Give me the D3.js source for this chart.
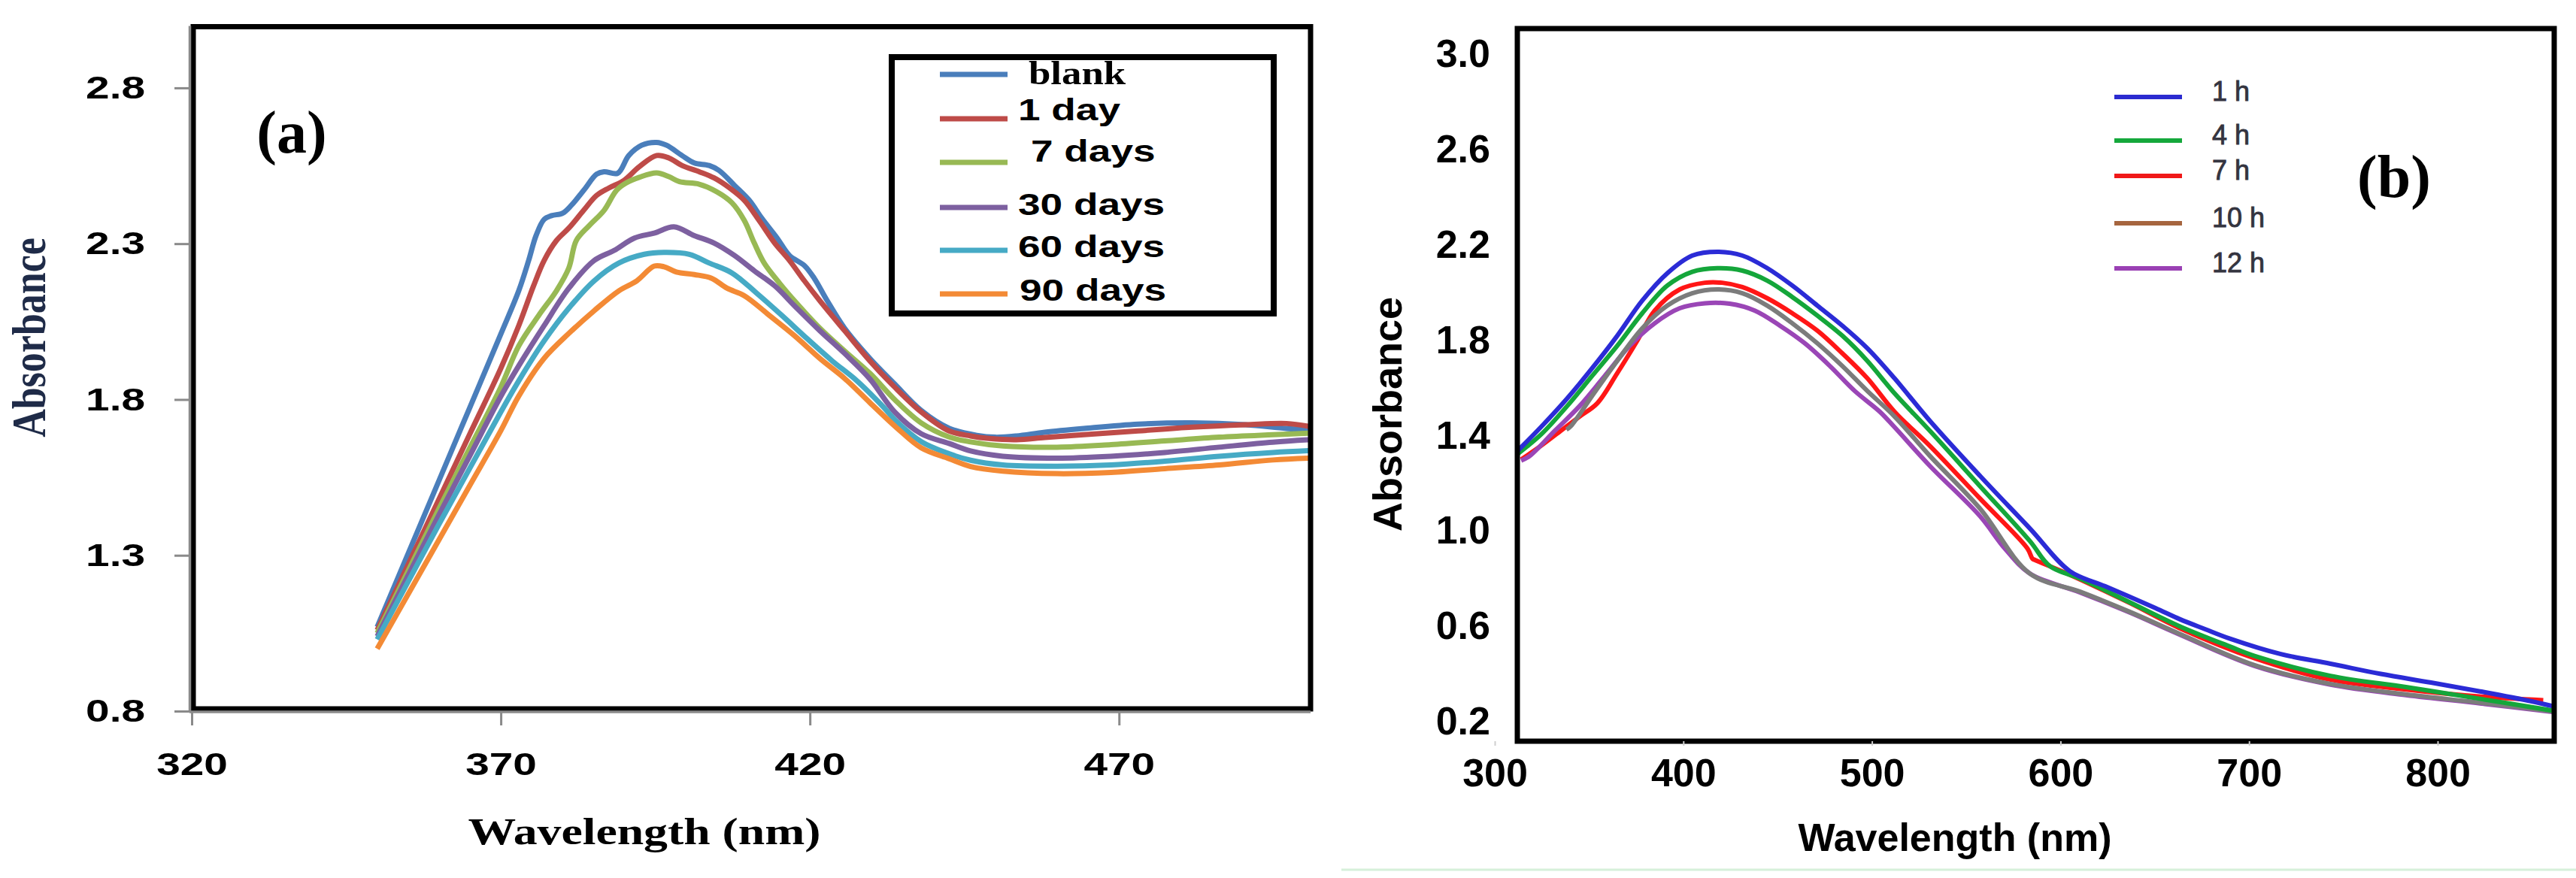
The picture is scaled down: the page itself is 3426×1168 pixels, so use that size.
<!DOCTYPE html>
<html>
<head>
<meta charset="utf-8">
<script src="https://cdn.jsdelivr.net/npm/d3@7"></script>
<style>
  body { margin: 0; background: #fff; }
  svg { display: block; }
</style>
</head>
<body>
<svg id="fig" width="3426" height="1168"></svg>
<script>
// ---- Panel (a): absorbance vs wavelength, storage time series ----
const blankA = [[350,1.07],[355,1.305],[360,1.54],[365,1.775],[370,2.01],[372.9,2.149],[374.5,2.246],[375.7,2.326],[377,2.378],[378.2,2.39],[380,2.398],[381.4,2.423],[383.4,2.471],[385.5,2.523],[386.7,2.531],[388.9,2.526],[390.7,2.583],[392.8,2.616],[395.2,2.625],[396.8,2.616],[399.3,2.583],[401.3,2.559],[403.7,2.551],[405.3,2.535],[407.8,2.487],[410.2,2.439],[412.2,2.382],[414.7,2.318],[416.7,2.262],[419.1,2.23],[420.7,2.189],[422.8,2.117],[425.6,2.029],[429.7,1.932],[433.7,1.85],[438,1.765],[442.5,1.708],[447,1.685],[450,1.679],[453.4,1.683],[458,1.695],[464.3,1.707],[473.1,1.721],[481.8,1.725],[490.5,1.719],[497.1,1.707],[501,1.703]];
const day1A = [[350,1.06],[355,1.27],[360,1.48],[365,1.69],[370,1.90],[372.9,2.037],[375.3,2.165],[377,2.246],[379,2.31],[381,2.35],[383.4,2.407],[385.5,2.455],[387.5,2.479],[389.9,2.503],[392.4,2.547],[395.2,2.583],[397.2,2.575],[399.3,2.551],[402.1,2.531],[404.5,2.511],[407,2.479],[409.4,2.439],[411.8,2.374],[414.3,2.302],[416.7,2.246],[419.1,2.181],[421.6,2.117],[425.6,2.021],[429.7,1.924],[433.7,1.84],[438,1.76],[442.5,1.699],[446,1.683],[449,1.675],[453.4,1.671],[458,1.678],[464.3,1.687],[473.1,1.699],[481.8,1.711],[490.5,1.719],[497.1,1.723],[501,1.713]];
const day7A = [[350,1.05],[355,1.25],[360,1.45],[365,1.645],[370,1.84],[372.9,1.972],[376.1,2.069],[379,2.149],[381,2.222],[382.2,2.31],[384.3,2.358],[386.7,2.407],[388.7,2.471],[390.3,2.495],[392.4,2.513],[395.2,2.527],[397.2,2.515],[398.9,2.499],[402.1,2.491],[404.9,2.467],[407.4,2.431],[409.4,2.374],[411,2.302],[412.6,2.238],[415.1,2.173],[417.5,2.117],[421.6,2.029],[425.6,1.956],[429.7,1.884],[433.7,1.80],[438,1.725],[442.5,1.68],[446,1.664],[451.2,1.651],[460,1.647],[468.7,1.655],[477.4,1.667],[486.2,1.679],[494.9,1.687],[501,1.692]];
const day30A = [[350,1.04],[355,1.235],[360,1.43],[365,1.62],[370,1.81],[372.9,1.908],[377,2.037],[381,2.157],[385.1,2.246],[388.3,2.278],[391.6,2.318],[394.8,2.334],[398,2.354],[401.3,2.326],[404.5,2.302],[407.8,2.262],[411,2.213],[414.3,2.165],[417.5,2.101],[421.6,2.021],[425.6,1.948],[429.7,1.866],[433.7,1.76],[438,1.69],[442.5,1.659],[446,1.635],[451.2,1.618],[460,1.612],[468.7,1.618],[477.4,1.63],[486.2,1.647],[494.9,1.663],[501,1.671]];
const day60A = [[350,1.03],[355,1.215],[360,1.40],[365,1.58],[370,1.76],[372.9,1.86],[377,1.988],[381,2.093],[385.1,2.181],[389.1,2.238],[393.2,2.266],[396.4,2.272],[400.5,2.266],[403.7,2.238],[407.4,2.206],[411.4,2.141],[415.5,2.069],[419.5,1.996],[423.6,1.924],[427.6,1.86],[431.7,1.78],[434,1.73],[438,1.665],[442.5,1.626],[446,1.605],[451.2,1.59],[460,1.586],[468.7,1.59],[477.4,1.602],[486.2,1.618],[494.9,1.63],[501,1.636]];
const day90A = [[350,1.0],[355,1.175],[360,1.35],[365,1.525],[370,1.70],[372.9,1.811],[377,1.932],[381,2.012],[385.1,2.085],[389.1,2.149],[392,2.181],[394.8,2.228],[396.4,2.226],[398.4,2.209],[401.3,2.201],[404.1,2.189],[406.6,2.157],[409.4,2.133],[413.5,2.069],[417.5,2.005],[421.6,1.932],[425.6,1.868],[429.7,1.79],[434,1.71],[438,1.645],[442.5,1.61],[446,1.585],[451.2,1.57],[460,1.562],[468.7,1.566],[477.4,1.578],[486.2,1.59],[494.9,1.606],[501,1.612]];

const seriesA = [blankA, day1A, day7A, day30A, day60A, day90A];
const namesA = ["blank", "1 day", "7 days", "30 days", "60 days", "90 days"];
const colorsA = ["#4a7ebb", "#be4b48", "#98b954", "#7d60a0", "#46aac5", "#f38a35"];
const xTicksA = [320, 370, 420, 470];
const yTicksA = [0.8, 1.3, 1.8, 2.3, 2.8];

// ---- Panel (b): absorbance vs wavelength, reaction time series ----
const h1B = [[312,1.335],[325,1.44],[338.4,1.556],[351.6,1.682],[364.9,1.818],[378.2,1.966],[391.5,2.081],[404.7,2.155],[418,2.171],[431.3,2.155],[444.5,2.102],[457.8,2.029],[471.1,1.945],[484.3,1.861],[497.6,1.766],[512,1.64],[530.7,1.462],[557.3,1.231],[583.8,1.01],[605,0.831],[623.6,0.768],[650.2,0.677],[663.2,0.63],[676.7,0.588],[689.9,0.548],[716.5,0.484],[743.2,0.443],[769.9,0.4],[796.5,0.364],[823.2,0.326],[849.9,0.285],[862,0.263]];
const h4B = [[312,1.322],[325,1.408],[338.4,1.524],[351.6,1.65],[364.9,1.776],[378.2,1.913],[391.5,2.029],[404.7,2.087],[418,2.102],[431.3,2.092],[444.5,2.05],[457.8,1.981],[471.1,1.903],[484.3,1.819],[497.6,1.713],[512,1.577],[530.7,1.42],[557.3,1.188],[583.8,0.957],[594.4,0.852],[610.4,0.8],[636.9,0.70],[663.2,0.60],[689.9,0.515],[703.2,0.475],[743.2,0.392],[783.2,0.345],[823.2,0.295],[862,0.245]];
const h7B = [[314,1.30],[325,1.36],[335,1.42],[345,1.48],[354.3,1.535],[364.9,1.661],[375.5,1.797],[384.8,1.924],[398.1,2.013],[411.4,2.041],[420.6,2.041],[431.3,2.023],[444.5,1.976],[457.8,1.913],[471.1,1.84],[484.3,1.745],[497.6,1.64],[512,1.50],[530.7,1.357],[557.3,1.136],[582.5,0.926],[585.1,0.884],[586.5,0.878],[605,0.816],[636.9,0.697],[663.2,0.592],[703.2,0.465],[743.2,0.376],[783.2,0.335],[823.2,0.305],[856,0.29]];
const h10B = [[338,1.425],[340.4,1.44],[351.6,1.566],[364.9,1.713],[378.2,1.85],[391.5,1.945],[404.7,1.997],[418,2.013],[431.3,1.997],[444.5,1.945],[457.8,1.871],[471.1,1.787],[484.3,1.692],[497.6,1.587],[512,1.48],[530.7,1.315],[557.3,1.094],[583.8,0.821],[610.4,0.745],[636.9,0.66],[663.2,0.568],[703.2,0.436],[743.2,0.358],[783.2,0.314],[823.2,0.279],[862,0.242]];
const h12B = [[314,1.295],[318.5,1.314],[331.7,1.419],[345,1.524],[358.3,1.65],[371.5,1.776],[384.8,1.871],[398.1,1.934],[411.4,1.955],[424.6,1.953],[437.9,1.924],[451.2,1.861],[464.4,1.787],[477.7,1.692],[490.9,1.587],[504.2,1.50],[512,1.435],[530.7,1.273],[557.3,1.062],[570.5,0.926],[583.8,0.821],[610.4,0.742],[636.9,0.657],[663.2,0.565],[703.2,0.433],[743.2,0.355],[783.2,0.311],[823.2,0.276],[862,0.24]];

const seriesB = [h1B, h4B, h7B, h10B, h12B];
const namesB = ["1 h", "4 h", "7 h", "10 h", "12 h"];
const curveColorsB = ["#2b2bd6", "#14a63a", "#ff1616", "#7c7c7c", "#9a46b6"];
const legendColorsB = ["#2b2bd0", "#15a83c", "#f01818", "#a6653f", "#9a40b4"];
const drawOrderB = [2, 4, 3, 1, 0];
const xTicksB = [300, 400, 500, 600, 700, 800];
const yTicksB = [0.2, 0.6, 1.0, 1.4, 1.8, 2.2, 2.6, 3.0];

// ---- Layout ----
const SANS = '"Liberation Sans", Arial, sans-serif';
const SERIF = '"Liberation Serif", "Times New Roman", serif';
const svg = d3.select("#fig");

// the left figure is a horizontally stretched bitmap, so its text gets a scaleX
function label(g, { x, y, text, size, family, weight = "bold", sx = 1, rot = 0, anchor = "middle", fill = "#000" }) {
  return g.append("text")
    .attr("transform", `translate(${x},${y}) scale(${sx},1)` + (rot ? ` rotate(${rot})` : ""))
    .attr("text-anchor", anchor)
    .attr("font-family", family)
    .attr("font-size", size)
    .attr("font-weight", weight)
    .attr("fill", fill)
    .text(text);
}

function stretchAxisText(g, sx) {
  g.selectAll("text").each(function () {
    const t = d3.select(this);
    const x = +t.attr("x") || 0, y = +t.attr("y") || 0;
    t.attr("x", null).attr("y", null)
      .attr("transform", `translate(${x},${y}) scale(${sx},1)`);
  });
}

// ================= Panel (a) =================
const xA = d3.scaleLinear().domain([320, 500.5]).range([255, 1739]);
const yA = d3.scaleLinear().domain([0.8, 3.0]).range([946, 34]);
const gA = svg.append("g");

svg.append("clipPath").attr("id", "clipA")
  .append("rect").attr("x", 259).attr("y", 39).attr("width", 1481).attr("height", 901);

const lineA = d3.line()
  .x(d => xA(d[0])).y(d => yA(d[1]))
  .curve(d3.curveCatmullRom.alpha(0.5));

gA.append("g").attr("clip-path", "url(#clipA)")
  .selectAll("path").data(seriesA).join("path")
  .attr("d", lineA)
  .attr("fill", "none")
  .attr("stroke", (d, i) => colorsA[i])
  .attr("stroke-width", 7)
  .attr("stroke-linejoin", "round");

// frame
gA.append("rect")
  .attr("x", 257).attr("y", 35.5).attr("width", 1486).attr("height", 907.5)
  .attr("fill", "none").attr("stroke", "#000").attr("stroke-width", 7);

// axes (gray, Excel style)
const yAxisA = gA.append("g").attr("transform", "translate(252,0)")
  .call(d3.axisLeft(yA).tickValues(yTicksA).tickFormat(d3.format(".1f"))
    .tickSize(20).tickPadding(39).tickSizeOuter(0));
const xAxisA = gA.append("g").attr("transform", "translate(0,947)")
  .call(d3.axisBottom(xA).tickValues(xTicksA).tickFormat(d3.format("d"))
    .tickSize(18).tickPadding(35).tickSizeOuter(0));
[yAxisA, xAxisA].forEach(g => {
  g.attr("font-family", SANS).attr("font-size", 43).attr("font-weight", "bold");
  g.select(".domain").attr("stroke", "#8a8a8a").attr("stroke-width", 3.5);
  g.selectAll(".tick line").attr("stroke", "#8a8a8a").attr("stroke-width", 3);
  g.selectAll(".tick text").attr("fill", "#000");
  stretchAxisText(g, 1.32);
});
xAxisA.select(".domain").attr("d", `M${xA(320) - 3},0H${xA.range()[1] + 4}`);

// titles
label(gA, { x: 857, y: 1123, text: "Wavelength (nm)", size: 51, family: SERIF, sx: 1.25 });
label(gA, { x: 60, y: 449, text: "Absorbance", size: 52, family: SERIF, sx: 1.2, rot: -90, fill: "#1f2b48" });
label(gA, { x: 388, y: 203, text: "(a)", size: 80, family: SERIF });

// legend
const legendRowsA = [
  { y: 99, ty: 112, tx: 1368, family: SERIF, size: 44, sx: 1.2 },
  { y: 158, ty: 160, tx: 1354, family: SANS, size: 40, sx: 1.33 },
  { y: 216, ty: 215, tx: 1371, family: SANS, size: 40, sx: 1.33 },
  { y: 276, ty: 286, tx: 1354, family: SANS, size: 40, sx: 1.33 },
  { y: 333, ty: 342, tx: 1354, family: SANS, size: 40, sx: 1.33 },
  { y: 391, ty: 400, tx: 1356, family: SANS, size: 40, sx: 1.33 }
];
const legA = gA.append("g");
legA.append("rect")
  .attr("x", 1186).attr("y", 76).attr("width", 508).attr("height", 341)
  .attr("fill", "#fff").attr("stroke", "#000").attr("stroke-width", 8);
namesA.forEach((name, i) => {
  const r = legendRowsA[i];
  legA.append("line")
    .attr("x1", 1250).attr("x2", 1340).attr("y1", r.y).attr("y2", r.y)
    .attr("stroke", colorsA[i]).attr("stroke-width", 7);
  label(legA, { x: r.tx, y: r.ty, text: name, size: r.size, family: r.family, sx: r.sx, anchor: "start" });
});

// ================= Panel (b) =================
const xB = d3.scaleLinear().domain([300, 800]).range([1988, 3242]);
const yB = d3.scaleLinear().domain([0.2, 3.0]).range([960, 72]);
const gB = svg.append("g");

svg.append("clipPath").attr("id", "clipB")
  .append("rect").attr("x", 2021).attr("y", 41).attr("width", 1373).attr("height", 942);

const lineB = d3.line()
  .x(d => xB(d[0])).y(d => yB(d[1]))
  .curve(d3.curveCatmullRom.alpha(0.5));

gB.append("g").attr("clip-path", "url(#clipB)")
  .selectAll("path").data(drawOrderB).join("path")
  .attr("d", i => lineB(seriesB[i]))
  .attr("fill", "none")
  .attr("stroke", i => curveColorsB[i])
  .attr("stroke-width", 6)
  .attr("stroke-linejoin", "round");

gB.append("rect")
  .attr("x", 2018).attr("y", 38).attr("width", 1379).attr("height", 948)
  .attr("fill", "none").attr("stroke", "#000").attr("stroke-width", 7);

const yAxisB = gB.append("g").attr("transform", "translate(2018,0)")
  .call(d3.axisLeft(yB).tickValues(yTicksB).tickFormat(d3.format(".1f"))
    .tickSize(0).tickPadding(36).tickSizeOuter(0));
const xAxisB = gB.append("g").attr("transform", "translate(0,986)")
  .call(d3.axisBottom(xB).tickValues(xTicksB).tickFormat(d3.format("d"))
    .tickSize(6).tickPadding(17).tickSizeOuter(0));
[yAxisB, xAxisB].forEach(g => {
  g.attr("font-family", SANS).attr("font-size", 52).attr("font-weight", "bold");
  g.select(".domain").remove();
  g.selectAll(".tick line").attr("stroke", "#cfcfcf").attr("stroke-width", 2);
  g.selectAll(".tick text").attr("fill", "#000");
});

label(gB, { x: 2600, y: 1132, text: "Wavelength (nm)", size: 52, family: SANS });
label(gB, { x: 1864, y: 551, text: "Absorbance", size: 54, family: SANS, rot: -90 });
label(gB, { x: 3184, y: 262, text: "(b)", size: 80, family: SERIF });

const legendRowsB = [129, 187, 234, 297, 357];
const legB = gB.append("g");
namesB.forEach((name, i) => {
  const y = legendRowsB[i];
  legB.append("line")
    .attr("x1", 2812).attr("x2", 2902).attr("y1", y).attr("y2", y)
    .attr("stroke", legendColorsB[i]).attr("stroke-width", 6);
  label(legB, { x: 2942, y: y + 5, text: name, size: 36, family: SANS, weight: "normal", anchor: "start", fill: "#34343f" })
    .attr("stroke", "#34343f").attr("stroke-width", 0.9);
});

// faint green rule at the bottom edge of the right figure
svg.append("line")
  .attr("x1", 1784).attr("x2", 3426).attr("y1", 1157).attr("y2", 1157)
  .attr("stroke", "#d6f0da").attr("stroke-width", 3);
</script>
</body>
</html>
